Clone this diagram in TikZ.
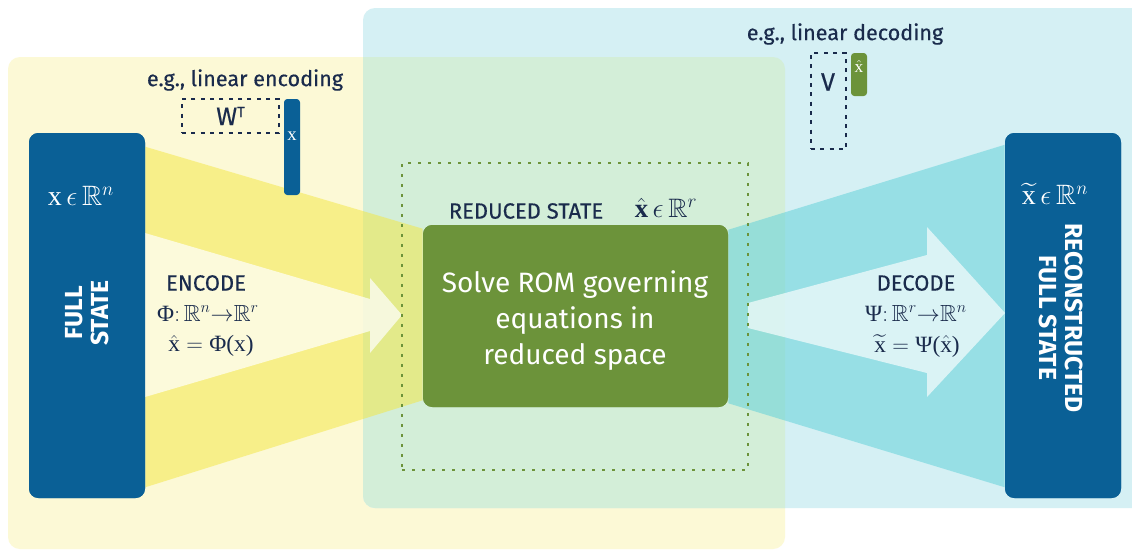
\documentclass[tikz,border=0pt]{standalone}
\usepackage{amsmath}
\usepackage{amssymb}
\usepackage{fontspec}
\setsansfont{Fira Sans}
\newfontfamily\firamed{Fira Sans}[FakeBold=0.35]
\newfontfamily\tnr{Liberation Serif}
\usepackage{xcolor}
\usepackage{tikz}
\usetikzlibrary{positioning,calc}
\definecolor{panelyellow}{RGB}{252,249,214}
\definecolor{panelblue}{RGB}{213,240,244}
\definecolor{overlapgreen}{RGB}{211,238,216}
\definecolor{bandyellow}{RGB}{244,231,62}
\definecolor{bandcyan}{RGB}{91,208,216}
\definecolor{stateblue}{RGB}{10,96,150}
\definecolor{romgreen}{RGB}{108,147,58}
\definecolor{inknavy}{RGB}{26,43,76}
% upright serif letters used in the formulas
\newcommand{\vx}{\text{\tnr x}}
\newcommand{\tnrsym}[1]{\text{\tnr #1}}

\begin{document}
\begin{tikzpicture}[x=0.75pt, y=-0.75pt, font=\sffamily,
    statebox/.style={rounded corners=7pt, fill=stateblue, inner sep=0pt, minimum width=87pt, minimum height=273.75pt},
    rombox/.style={rounded corners=7pt, fill=romgreen, inner sep=0pt, minimum width=228.75pt, minimum height=136.5pt},
    vecbar/.style={rounded corners=2.5pt, inner sep=0pt, minimum width=12pt},
    matbox/.style={draw=inknavy, line width=1.5pt, dash pattern=on 3pt off 4pt, inner sep=0pt},
    note/.style={text=inknavy, font=\firamed\fontsize{16.2}{19}\selectfont},
    opname/.style={text=inknavy, font=\firamed\fontsize{16.5}{20}\selectfont, inner sep=0pt},
    opmath/.style={text=inknavy, font=\fontsize{17.5}{20}\selectfont, inner sep=0pt},
    whitemath/.style={text=white, font=\fontsize{21}{24}\selectfont, inner sep=0pt},
    sidelabel/.style={text=white, font=\sffamily\bfseries\fontsize{18.5}{20}\selectfont, align=center, inner sep=0pt}]
        \useasboundingbox (0,0) rectangle (1132,551);
        \fill[white] (0,0) rectangle (1132,551);

        % Background panels: encoder side, decoder side and their overlap
        \fill[panelyellow, rounded corners=9pt] (8,57) rectangle (785,549);
        \fill[panelblue, rounded corners=9pt] (363,8) rectangle (1145,508);
        \begin{scope}
            \clip[rounded corners=9pt] (8,57) rectangle (785,549);
            \fill[overlapgreen, rounded corners=9pt] (363,8) rectangle (1145,508);
        \end{scope}

        % Main blocks (placed first so the bands can use their anchors)
        \node[statebox] (full) at (87,315.5) {};
        \node[statebox] (recon) at (1063,315.5) {};
        \node[rombox] (rom) at (575.5,316) {};

        % Bands between the blocks
        \fill[bandyellow, fill opacity=0.5] ($(full.north east)+(0,14)$) -- ($(rom.north west)+(0,4)$) -- ($(rom.south west)+(0,-7)$) -- ($(full.south east)+(0,-11)$) -- cycle;
        \fill[bandcyan, fill opacity=0.5] ($(rom.north east)+(0,5)$) -- ($(recon.north west)+(0,12)$) -- ($(recon.south west)+(0,-11)$) -- ($(rom.south east)+(0,-4)$) -- cycle;

        % Light arrows: encode narrows, decode widens
        \fill[white, fill opacity=0.7] (145,233) -- (370,299) -- (370,278) -- (402,315) -- (370,353) -- (370,331) -- (145,397) -- cycle;
        \fill[white, fill opacity=0.65] (748,303) -- (927,255) -- (927,227) -- (1005,313) -- (927,397) -- (927,373) -- (748,328) -- cycle;

        % Blocks again on top of the bands
        \node[statebox] at (full) {};
        \node[statebox] at (recon) {};
        \node[rombox] at (rom) {};

        % Reduced space frame
        \node[draw=romgreen, line width=1.6pt, dash pattern=on 2.5pt off 5pt, inner sep=0pt, minimum width=259.5pt, minimum height=230.25pt] (reduced) at (575,316.5) {};

        % Labels on the blocks
        \node[whitemath] (fullvar) at (81,196) {$\vx\,\epsilon\,\mathbb{R}^n$};
        \node[sidelabel, rotate=90] (fulltxt) at (87,313) {FULL\\STATE};
        \node[whitemath] (reconvar) at (1055,194) {$\widetilde{\vx}\,\epsilon\,\mathbb{R}^n$};
        \node[sidelabel, rotate=-90] (recontxt) at (1061,318) {RECONSTRUCTED\\FULL STATE};
        \node[text=white, align=center, font=\sffamily\fontsize{21}{27}\selectfont] (romtxt) at (575,321) {Solve ROM governing\\equations in\\reduced space};
        \node[opname] (redtxt) at (526,211) {REDUCED STATE};
        \node[text=inknavy, font=\fontsize{20}{22}\selectfont, inner sep=0pt] (redvar) at (666,208) {$\hat{\text{\tnr\bfseries x}}\,\epsilon\,\mathbb{R}^r$};

        % Encoder
        \node[note] (encnote) at (245,80) {e.g., linear encoding};
        \node[matbox, minimum width=72.75pt, minimum height=25.5pt] (wmat) at (230.5,116) {};
        \node[text=inknavy, font=\firamed\fontsize{19}{22}\selectfont] (wtxt) at (wmat) {W\raisebox{0.6ex}{\fontsize{11}{11}\selectfont T}};
        \node[vecbar, fill=stateblue, minimum height=72pt] (xbar) at (292,147) {};
        \node[text=white, font=\fontsize{14}{14}\selectfont, inner sep=0pt] (xtxt) at (292,136) {$\vx$};
        \node[opname] (enctxt) at (206,283) {ENCODE};
        \node[opmath] (encmap) at (208,313) {$\tnrsym{Φ}{:}\,\mathbb{R}^{n}{\to}\mathbb{R}^{r}$};
        \node[opmath] (encdef) at (211,346) {$\hat{\vx}=\tnrsym{Φ}\tnrsym{(x)}$};

        % Decoder
        \node[note] (decnote) at (845,34) {e.g., linear decoding};
        \node[matbox, minimum width=26.25pt, minimum height=72pt] (vmat) at (828.5,101) {};
        \node[text=inknavy, font=\firamed\fontsize{19}{22}\selectfont] (vtxt) at (828,82) {V};
        \node[vecbar, fill=romgreen, minimum height=32.25pt] (xhatbar) at (859,74.5) {};
        \node[text=white, font=\fontsize{13}{13}\selectfont, inner sep=0pt] (xhattxt) at (859,66) {$\hat{\vx}$};
        \node[opname] (dectxt) at (916,283) {DECODE};
        \node[opmath] (decmap) at (916,313) {$\tnrsym{Ψ}{:}\,\mathbb{R}^{r}{\to}\mathbb{R}^{n}$};
        \node[opmath] (decdef) at (917,346) {$\widetilde{\vx}=\tnrsym{Ψ}\tnrsym{(}\hat{\vx}\tnrsym{)}$};
    \end{tikzpicture}
\end{document}
